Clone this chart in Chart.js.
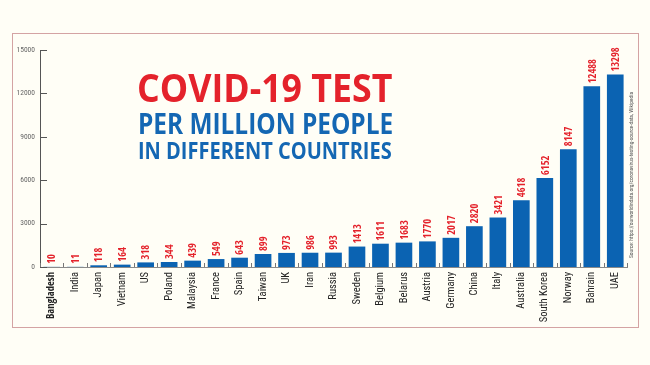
<!DOCTYPE html>
<html><head><meta charset="utf-8">
<script src="https://cdn.jsdelivr.net/npm/chart.js@4.4.1/dist/chart.umd.min.js"></script>
<style>
html,body{margin:0;padding:0;background:#fffef6;}
#wrap{position:relative;width:650px;height:365px;overflow:hidden;background:#fffef6;}
#frame{position:absolute;left:12px;top:33px;width:627px;height:295px;border:1px solid #d4a3a3;box-sizing:border-box;}
canvas{position:absolute;left:0;top:0;}
.t{position:absolute;white-space:nowrap;transform-origin:0 0;font-weight:700;margin:0;}
</style></head><body>
<div id="wrap">
<div id="frame"></div>
<canvas id="c" width="650" height="365"></canvas>
<div id="t1" class="t" style="color:#e4222b">COVID-19 TEST</div>
<div id="t2" class="t" style="color:#1467b3">PER MILLION PEOPLE</div>
<div id="t3" class="t" style="color:#1467b3">IN DIFFERENT COUNTRIES</div>
<div id="src" class="t" style="font-weight:400;color:#555">Source: https://ourworldindata.org/coronavirus-testing-source-data, Wikipedia</div>
</div>
<script>
const categories = ["Bangladesh","India","Japan","Vietnam","US","Poland","Malaysia","France","Spain","Taiwan","UK","Iran","Russia","Sweden","Belgium","Belarus","Austria","Germany","China","Italy","Australia","South Korea","Norway","Bahrain","UAE"];
const testsPerMillion = [10,11,118,164,318,344,439,549,643,899,973,986,993,1413,1611,1683,1770,2017,2820,3421,4618,6152,8147,12488,13298];
const yTickValues = [0,3000,6000,9000,12000,15000];

const mctx = document.createElement('canvas').getContext('2d');
const FB = "'Open Sans Condensed', 'Roboto Condensed', sans-serif";
const FR = "'Roboto Condensed', 'DejaVu Sans Condensed', sans-serif";

function placeLine(id, fam, left, right, capTop, baseline){
  const el = document.getElementById(id);
  mctx.font = "bold 100px "+fam;
  const capR = mctx.measureText("H").actualBoundingBoxAscent/100;
  const size = (baseline-capTop)/capR;
  mctx.font = "bold "+size+"px "+fam;
  const m = mctx.measureText(el.textContent);
  const A = m.fontBoundingBoxAscent, D = m.fontBoundingBoxDescent;
  el.style.fontFamily = fam; el.style.fontSize = size+"px"; el.style.lineHeight = size+"px";
  const top = baseline - ((size-(A+D))/2 + A);
  const w = m.actualBoundingBoxLeft + m.actualBoundingBoxRight;
  const k = (right-left)/w;
  el.style.left = (left - m.actualBoundingBoxLeft*k)+"px"; el.style.top = top+"px";
  el.style.transform = "scaleX("+k+")";
}
const TF = "'Open Sans', sans-serif";
placeLine('t1', TF, 135, 388, 75, 103);
placeLine('t2', TF, 136, 388, 115, 135);
placeLine('t3', TF, 136, 388, 143, 160);

(function(){
  const el = document.getElementById('src');
  el.style.fontFamily = FR; el.style.fontSize = "6px"; el.style.lineHeight = "6px";
  const w = el.getBoundingClientRect().width;
  const k = 166/w;
  el.style.left = "627.5px"; el.style.top = "258px";
  el.style.transform = "rotate(-90deg) scaleX("+k+")";
})();

const innerTicks = {
  id:'innerTicks',
  afterDraw(chart){
    const c = chart.ctx, x = chart.scales.x, y = chart.scales.y, a = chart.chartArea;
    c.save();
    c.strokeStyle = '#555'; c.lineWidth = 1;
    yTickValues.forEach(v=>{
      const py = Math.round(y.getPixelForValue(v))+0.5;
      c.beginPath(); c.moveTo(a.left, py); c.lineTo(a.left+7, py); c.stroke();
    });
    c.strokeStyle = '#777';
    const half = (x.getPixelForValue(1)-x.getPixelForValue(0))/2;
    for (let i=0;i<=categories.length;i++){
      const px = Math.round(x.getPixelForValue(i)-half)+0.5;
      c.beginPath(); c.moveTo(px, a.bottom); c.lineTo(px, a.bottom-4); c.stroke();
    }
    c.restore();
  }
};
const valueLabels = {
  id:'valueLabels',
  afterDatasetsDraw(chart){
    const c = chart.ctx, meta = chart.getDatasetMeta(0);
    c.save();
    c.fillStyle = '#e4222b';
    c.font = "bold 10.5px "+FB;
    c.textAlign = 'left'; c.textBaseline = 'middle';
    meta.data.forEach((el,i)=>{
      c.save(); c.translate(el.x+1, el.y-3); c.rotate(-Math.PI/2);
      c.fillText(String(testsPerMillion[i]),0,0); c.restore();
    });
    c.restore();
  }
};

new Chart(document.getElementById('c'), {
  type:'bar',
  data:{labels:categories, datasets:[{data:testsPerMillion, backgroundColor:'#0b63b2', barPercentage:0.71, categoryPercentage:1}]},
  options:{
    responsive:false, animation:false,
    layout:{padding:{left:0,right:23,top:50,bottom:0}},
    plugins:{legend:{display:false}, tooltip:{enabled:false}, title:{display:false}},
    scales:{
      x:{
        grid:{display:false, drawTicks:false},
        border:{display:true, color:'#8a8a8a', width:1},
        ticks:{autoSkip:false, maxRotation:90, minRotation:90, padding:5, color:'#222',
          font:(c)=>(c.index===0 ? {family:FB, size:10.5, weight:'bold'} : {family:FR, size:10.5, weight:'normal'})},
        afterFit:(s)=>{s.height=98;}
      },
      y:{
        min:0, max:15000,
        afterBuildTicks:(s)=>{s.ticks = yTickValues.map(v=>({value:v}));},
        grid:{display:false, drawTicks:false},
        border:{display:true, color:'#555', width:1},
        ticks:{padding:5, color:'#666', font:{family:FR, size:7.5}, callback:(v)=>String(v)},
        afterFit:(s)=>{s.width=40;}
      }
    }
  },
  plugins:[innerTicks, valueLabels]
});
</script>
</body></html>
